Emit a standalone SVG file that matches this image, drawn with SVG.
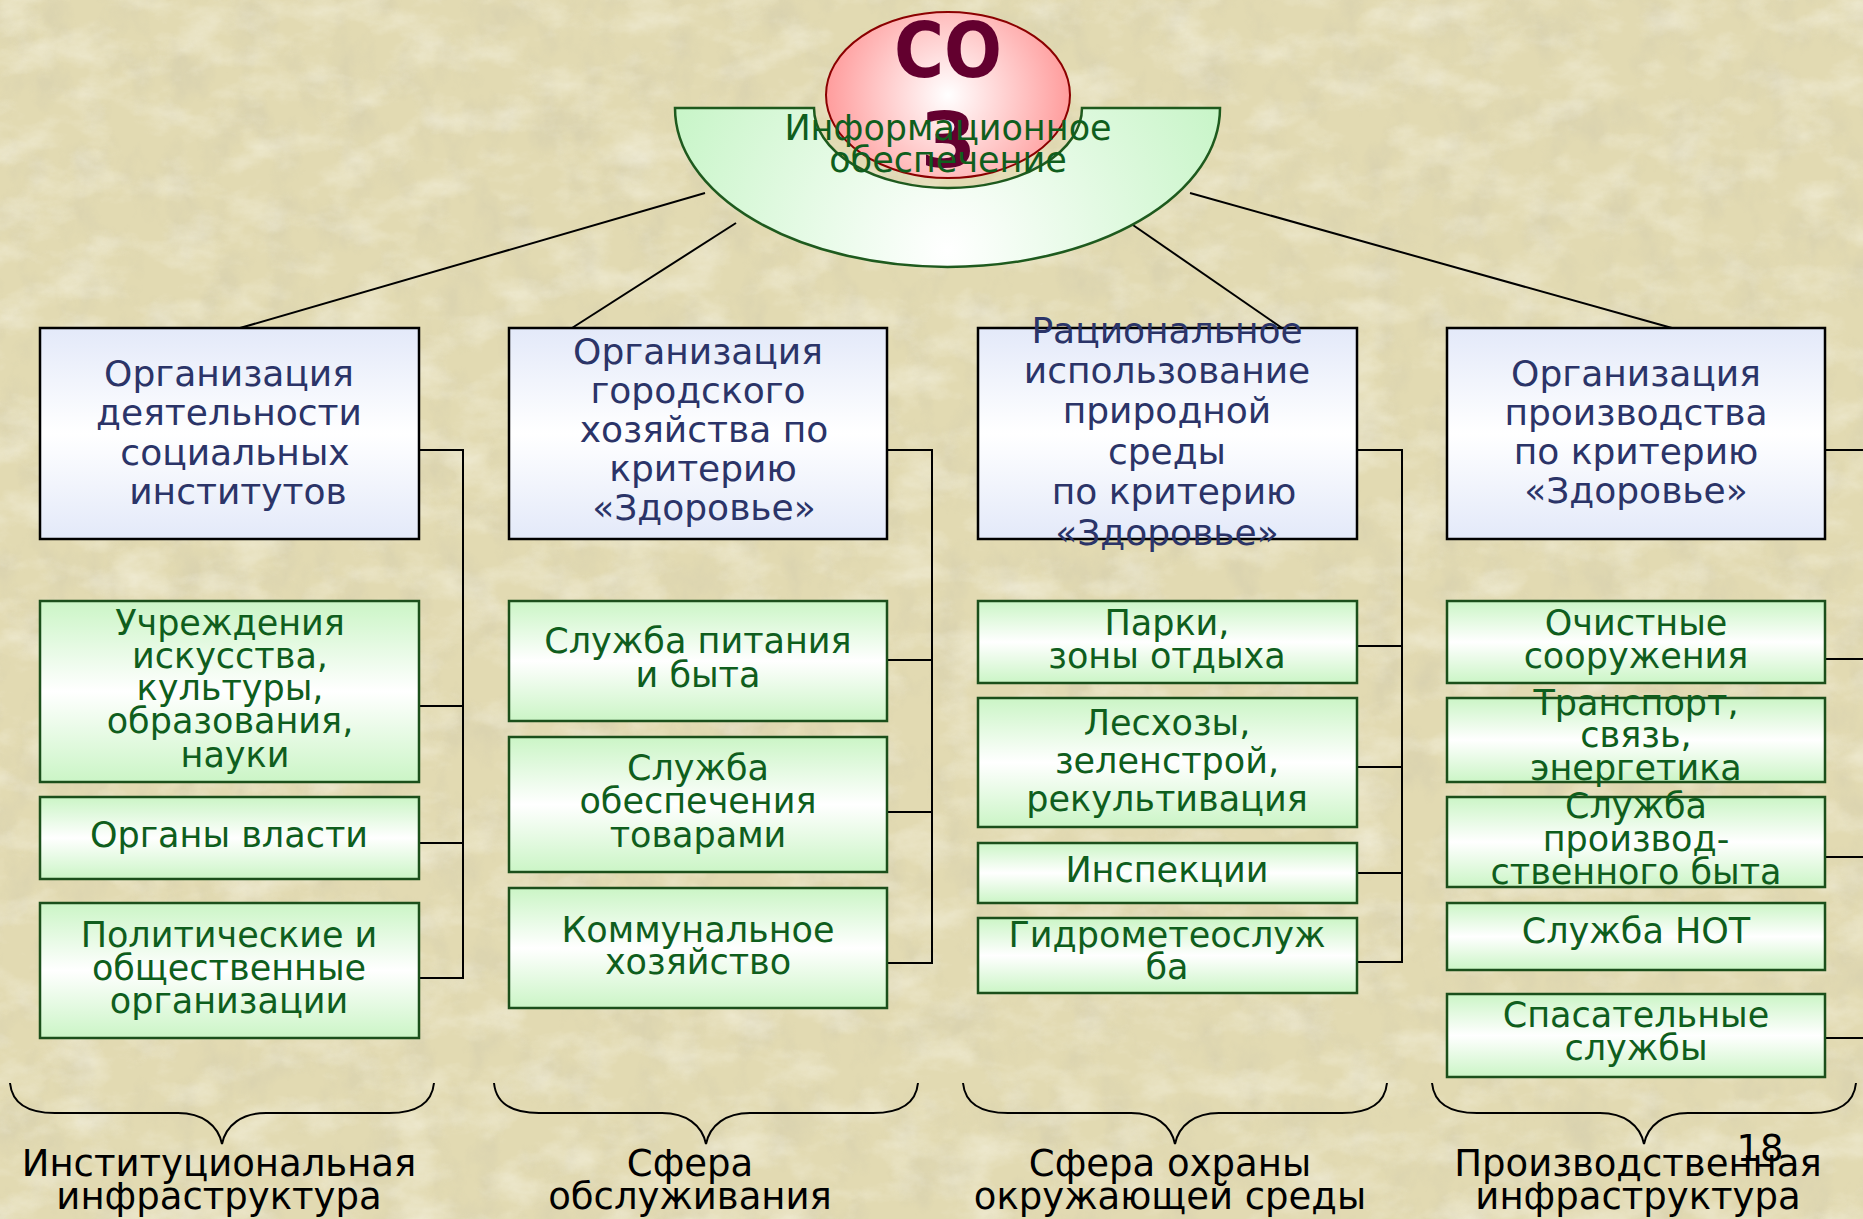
<svg xmlns="http://www.w3.org/2000/svg" width="1863" height="1219" viewBox="0 0 1863 1219">
<style>
.hb{fill:url(#gHead);stroke:#000;stroke-width:2.5}
.gb{fill:url(#gGreen);stroke:#1b4f1b;stroke-width:2.5}
.ht{font-family:"DejaVu Sans",Verdana,sans-serif;font-size:36px;fill:#2b3468;text-anchor:middle}
.gt{font-family:"DejaVu Sans",Verdana,sans-serif;font-size:35px;fill:#0f5e1d;text-anchor:middle}
.bt{font-family:"DejaVu Sans",Verdana,sans-serif;font-size:37px;fill:#000;text-anchor:middle}
.cn{fill:none;stroke:#000;stroke-width:2}
.br{fill:none;stroke:#000;stroke-width:2}
</style>
<defs>
<linearGradient id="gHead" x1="0" y1="0" x2="0" y2="1">
<stop offset="0" stop-color="#e3e9f9"/><stop offset="0.5" stop-color="#ffffff"/><stop offset="1" stop-color="#e3e9f9"/>
</linearGradient>
<linearGradient id="gGreen" x1="0" y1="0" x2="0" y2="1">
<stop offset="0" stop-color="#cbf5c6"/><stop offset="0.5" stop-color="#ffffff"/><stop offset="1" stop-color="#cbf5c6"/>
</linearGradient>
<radialGradient id="gBand" gradientUnits="userSpaceOnUse" cx="948" cy="250" r="300">
<stop offset="0" stop-color="#ffffff"/><stop offset="1" stop-color="#c9f5c9"/>
</radialGradient>
<radialGradient id="gEll" gradientUnits="userSpaceOnUse" cx="948" cy="95" r="125">
<stop offset="0" stop-color="#ffffff"/><stop offset="1" stop-color="#ff9a9a"/>
</radialGradient>
<filter id="texL" x="0" y="0" width="100%" height="100%">
<feTurbulence type="fractalNoise" baseFrequency="0.018 0.03" numOctaves="5" seed="11"/>
<feColorMatrix type="matrix" values="0 0 0 0 1  0 0 0 0 1  0 0 0 0 0.96  1.4 0 0 0 -0.62"/>
</filter>
<filter id="texD" x="0" y="0" width="100%" height="100%">
<feTurbulence type="fractalNoise" baseFrequency="0.03 0.02" numOctaves="5" seed="23"/>
<feColorMatrix type="matrix" values="0 0 0 0 0.55  0 0 0 0 0.52  0 0 0 0 0.4  0 1.3 0 0 -0.6"/>
</filter>
<path id="brace" d="M-212,0 C-210,20 -194,30 -167,30 L-44,30 C-20,30 -4,42 0,61 C4,42 20,30 44,30 L167,30 C194,30 210,20 212,0"/>
</defs>

<rect width="1863" height="1219" fill="#e2dab2"/>
<rect width="1863" height="1219" filter="url(#texD)" opacity="0.5"/>
<rect width="1863" height="1219" filter="url(#texL)" opacity="0.6"/>

<g id="connectors">
<line class="cn" x1="705" y1="193" x2="240" y2="328"/>
<line class="cn" x1="736" y1="223" x2="572" y2="328"/>
<line class="cn" x1="1130" y1="223" x2="1282" y2="328"/>
<line class="cn" x1="1190" y1="193" x2="1672" y2="328"/>
<polyline class="cn" points="419,450 463,450 463,978 419,978"/>
<line class="cn" x1="419" y1="706" x2="463" y2="706"/>
<line class="cn" x1="419" y1="843" x2="463" y2="843"/>
<polyline class="cn" points="887,450 932,450 932,963 887,963"/>
<line class="cn" x1="887" y1="660" x2="932" y2="660"/>
<line class="cn" x1="887" y1="812" x2="932" y2="812"/>
<polyline class="cn" points="1357,450 1402,450 1402,962 1357,962"/>
<line class="cn" x1="1357" y1="646" x2="1402" y2="646"/>
<line class="cn" x1="1357" y1="767" x2="1402" y2="767"/>
<line class="cn" x1="1357" y1="873" x2="1402" y2="873"/>
<line class="cn" x1="1825" y1="450" x2="1863" y2="450"/>
<line class="cn" x1="1825" y1="659" x2="1863" y2="659"/>
<line class="cn" x1="1825" y1="857" x2="1863" y2="857"/>
<line class="cn" x1="1825" y1="1038" x2="1863" y2="1038"/>
</g>

<g id="soz">
<ellipse cx="948" cy="95" rx="122" ry="83" fill="url(#gEll)" stroke="#8b0000" stroke-width="2"/>
<text x="948" y="77" font-family="'DejaVu Sans',Verdana,sans-serif" font-weight="bold" font-size="76" fill="#63002f" text-anchor="middle" textLength="108" lengthAdjust="spacingAndGlyphs">СО</text>
<text x="948" y="167" font-family="'DejaVu Sans',Verdana,sans-serif" font-weight="bold" font-size="76" fill="#63002f" text-anchor="middle">З</text>
</g>

<g id="info">
<path d="M675,108 L814,108 A134,80 0 0 0 1082,108 L1220,108 A272.5,159 0 0 1 675,108 Z" fill="url(#gBand)" stroke="#1e5a1e" stroke-width="2.5"/>
<text class="gt" x="948" y="140" font-size="35">Информационное</text>
<text class="gt" x="948" y="172" font-size="35">обеспечение</text>
</g>

<g id="h1">
<rect class="hb" x="40" y="328" width="379" height="211"/>
<text class="ht" x="229" y="386">Организация</text>
<text class="ht" x="229" y="425">деятельности</text>
<text class="ht" x="235" y="465">социальных</text>
<text class="ht" x="238" y="504">институтов</text>
</g>
<g id="h2">
<rect class="hb" x="509" y="328" width="378" height="211"/>
<text class="ht" x="698" y="364">Организация</text>
<text class="ht" x="698" y="403">городского</text>
<text class="ht" x="704" y="442">хозяйства по</text>
<text class="ht" x="703" y="481">критерию</text>
<text class="ht" x="704" y="520">«Здоровье»</text>
</g>
<g id="h3">
<rect class="hb" x="978" y="328" width="379" height="211"/>
<text class="ht" x="1167" y="343">Рациональное</text>
<text class="ht" x="1167" y="383">использование</text>
<text class="ht" x="1167" y="423">природной</text>
<text class="ht" x="1167" y="464">среды</text>
<text class="ht" x="1174" y="504">по критерию</text>
<text class="ht" x="1167" y="545">«Здоровье»</text>
</g>
<g id="h4">
<rect class="hb" x="1447" y="328" width="378" height="211"/>
<text class="ht" x="1636" y="386">Организация</text>
<text class="ht" x="1636" y="425">производства</text>
<text class="ht" x="1636" y="464">по критерию</text>
<text class="ht" x="1636" y="503">«Здоровье»</text>
</g>

<g id="c1a">
<rect class="gb" x="40" y="601" width="379" height="181"/>
<text class="gt" x="230" y="635">Учреждения</text>
<text class="gt" x="230" y="668">искусства,</text>
<text class="gt" x="230" y="700">культуры,</text>
<text class="gt" x="230" y="733">образования,</text>
<text class="gt" x="235" y="767">науки</text>
</g>
<g id="c1b">
<rect class="gb" x="40" y="797" width="379" height="82"/>
<text class="gt" x="229" y="847">Органы власти</text>
</g>
<g id="c1c">
<rect class="gb" x="40" y="903" width="379" height="135"/>
<text class="gt" x="229" y="947">Политические и</text>
<text class="gt" x="229" y="980">общественные</text>
<text class="gt" x="229" y="1013">организации</text>
</g>

<g id="c2a">
<rect class="gb" x="509" y="601" width="378" height="120"/>
<text class="gt" x="698" y="653">Служба питания</text>
<text class="gt" x="698" y="687">и быта</text>
</g>
<g id="c2b">
<rect class="gb" x="509" y="737" width="378" height="135"/>
<text class="gt" x="698" y="780">Служба</text>
<text class="gt" x="698" y="813">обеспечения</text>
<text class="gt" x="698" y="847">товарами</text>
</g>
<g id="c2c">
<rect class="gb" x="509" y="888" width="378" height="120"/>
<text class="gt" x="698" y="942">Коммунальное</text>
<text class="gt" x="698" y="974">хозяйство</text>
</g>

<g id="c3a">
<rect class="gb" x="978" y="601" width="379" height="82"/>
<text class="gt" x="1167" y="635">Парки,</text>
<text class="gt" x="1167" y="668">зоны отдыха</text>
</g>
<g id="c3b">
<rect class="gb" x="978" y="698" width="379" height="129"/>
<text class="gt" x="1167" y="735">Лесхозы,</text>
<text class="gt" x="1167" y="773">зеленстрой,</text>
<text class="gt" x="1167" y="811">рекультивация</text>
</g>
<g id="c3c">
<rect class="gb" x="978" y="843" width="379" height="60"/>
<text class="gt" x="1167" y="882">Инспекции</text>
</g>
<g id="c3d">
<rect class="gb" x="978" y="918" width="379" height="75"/>
<text class="gt" x="1167" y="947">Гидрометеослуж</text>
<text class="gt" x="1167" y="979">ба</text>
</g>

<g id="c4a">
<rect class="gb" x="1447" y="601" width="378" height="82"/>
<text class="gt" x="1636" y="635">Очистные</text>
<text class="gt" x="1636" y="668">сооружения</text>
</g>
<g id="c4b">
<rect class="gb" x="1447" y="698" width="378" height="84"/>
<text class="gt" x="1636" y="715">Транспорт,</text>
<text class="gt" x="1636" y="747">связь,</text>
<text class="gt" x="1636" y="780">энергетика</text>
</g>
<g id="c4c">
<rect class="gb" x="1447" y="797" width="378" height="90"/>
<text class="gt" x="1636" y="818">Служба</text>
<text class="gt" x="1636" y="851">производ-</text>
<text class="gt" x="1636" y="884">ственного быта</text>
</g>
<g id="c4d">
<rect class="gb" x="1447" y="903" width="378" height="67"/>
<text class="gt" x="1636" y="943">Служба НОТ</text>
</g>
<g id="c4e">
<rect class="gb" x="1447" y="994" width="378" height="83"/>
<text class="gt" x="1636" y="1027">Спасательные</text>
<text class="gt" x="1636" y="1060">службы</text>
</g>

<g id="braces">
<use href="#brace" class="br" transform="translate(222,1083)"/>
<use href="#brace" class="br" transform="translate(706,1083)"/>
<use href="#brace" class="br" transform="translate(1175,1083)"/>
<use href="#brace" class="br" transform="translate(1644,1083)"/>
</g>

<g id="labels">
<text class="bt" x="219" y="1176">Институциональная</text>
<text class="bt" x="219" y="1209">инфраструктура</text>
<text class="bt" x="690" y="1176">Сфера</text>
<text class="bt" x="690" y="1209">обслуживания</text>
<text class="bt" x="1170" y="1176">Сфера охраны</text>
<text class="bt" x="1170" y="1209">окружающей среды</text>
<text class="bt" x="1638" y="1176">Производственная</text>
<text class="bt" x="1638" y="1209">инфраструктура</text>
<text class="bt" x="1760" y="1161" font-size="34">18</text>
</g>
</svg>
